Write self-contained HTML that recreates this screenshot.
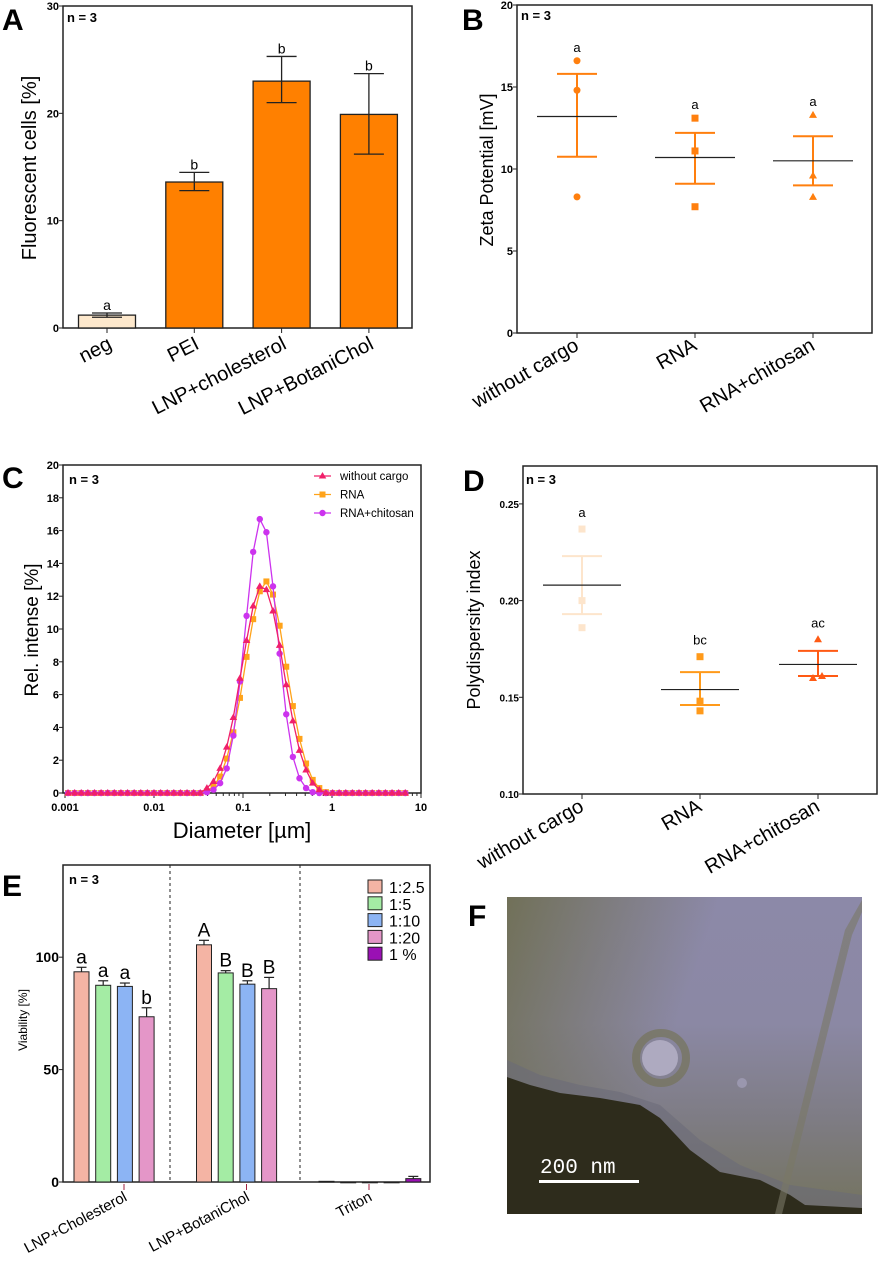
<!DOCTYPE html>
<html><head><meta charset="utf-8"><style>
html,body{margin:0;padding:0;background:#fff}
svg{display:block;font-family:"Liberation Sans",Arial,sans-serif}
</style></head><body>
<svg id="fig" width="879" height="1268" viewBox="0 0 879 1268" xmlns="http://www.w3.org/2000/svg">
<defs>
<linearGradient id="temBg" x1="0" y1="0" x2="0" y2="1">
<stop offset="0" stop-color="#8c89a8"/><stop offset="0.4" stop-color="#8b88a4"/><stop offset="0.7" stop-color="#7e7c84"/><stop offset="1" stop-color="#74735e"/>
</linearGradient>
<linearGradient id="temSide" x1="0" y1="0" x2="1" y2="0.3">
<stop offset="0" stop-color="#6c6c4a" stop-opacity="0.85"/><stop offset="0.55" stop-color="#6c6c4a" stop-opacity="0"/>
</linearGradient>
</defs>
<g id="root"></g>
</svg>
<script>
// ---------- Panel A data ----------
const aCats = ["neg","PEI","LNP+cholesterol","LNP+BotaniChol"];
const aVals = [1.2, 13.6, 23.0, 19.9];
const aErrLo = [1.0, 12.8, 21.0, 16.2];
const aErrHi = [1.4, 14.5, 25.3, 23.7];
const aLetters = ["a","b","b","b"];
const aTicks = [0,10,20,30];
// ---------- Panel B data ----------
const bCats = ["without cargo","RNA","RNA+chitosan"];
const bMeans = [13.2, 10.7, 10.5];
const bErrHi = [15.8, 12.2, 12.0];
const bErrLo = [10.75, 9.1, 9.0];
const bPts = [[16.6,14.8,8.3],[13.1,11.1,7.7],[13.3,9.6,8.3]];
const bLetters = ["a","a","a"];
const bTicks = [0,5,10,15,20];
// ---------- Panel C data ----------
const cStartIdx = 21;
const cWithout = [0.3,0.7,1.5,2.8,4.6,7.0,9.3,11.4,12.6,12.4,11.1,9.0,6.6,4.4,2.6,1.4,0.6,0.2];
const cRNA = [0.1,0.4,1.0,2.1,3.7,5.8,8.3,10.6,12.3,12.9,12.1,10.2,7.7,5.3,3.3,1.8,0.8,0.3,0.05];
const cChito = [0.05,0.2,0.6,1.5,3.5,6.8,10.8,14.7,16.7,15.9,12.6,8.5,4.8,2.2,0.9,0.3,0.05,0];
const cYTicks = [0,2,4,6,8,10,12,14,16,18,20];
const cXTicks = ["0.001","0.01","0.1","1","10"];
const cSeriesNames = ["without cargo","RNA","RNA+chitosan"];
// ---------- Panel D data ----------
const dMeans = [0.208, 0.154, 0.167];
const dErrHi = [0.223, 0.163, 0.174];
const dErrLo = [0.193, 0.146, 0.161];
const dPts = [[0.237,0.200,0.186],[0.171,0.148,0.143],[0.180,0.161,0.160]];
const dLetters = ["a","bc","ac"];
const dTicks = [0.10,0.15,0.20,0.25];
// ---------- Panel E data ----------
const eGroups = ["LNP+Cholesterol","LNP+BotaniChol","Triton"];
const eSeries = ["1:2.5","1:5","1:10","1:20","1 %"];
const eVals = [[93.5,87.5,87,73.5,null],[105.5,93,88,86,null],[0.3,0,0,0,1.5]];
const eErr = [[2,2,1.5,4,null],[2,1,1.5,5,null],[0,0,0,0,1]];
const eLetters = [["a","a","a","b",""],["A","B","B","B",""],["","","","",""]];
const eTicks = [0,50,100];

const NS="http://www.w3.org/2000/svg";
const root=document.getElementById('root');
function mk(tag,attrs,parent,text){const e=document.createElementNS(NS,tag);for(const k in attrs)e.setAttribute(k,attrs[k]);if(text!==undefined)e.textContent=text;(parent||root).appendChild(e);return e;}
function grp(name){const g=mk('g',{});return g;}

function panelLabel(t,x,y){const e=mk('text',{x:x,y:y,'font-size':30,'font-weight':'bold'},root,t);}
function nLabel(x,y,g,fs){const e=mk('text',{x:x,y:y,'font-size':fs||13,'font-weight':'bold'},g,'n = 3');}

// ============ Panel A ============
(function(){
const g=grp('panel-a-bar-chart');
const L=63,T=6,R=412,B=328,ymax=30;
const ys=v=>B-(B-T)*v/ymax;
const xs=i=>107+i*87.3;
mk('rect',{x:L,y:T,width:R-L,height:B-T,fill:'none',stroke:'#222','stroke-width':1.5},g);
aTicks.forEach(t=>{mk('line',{x1:L-4,x2:L,y1:ys(t),y2:ys(t),stroke:'#222'},g);const e=mk('text',{x:L-4,y:ys(t)+4,'font-size':11,'font-weight':'bold','text-anchor':'end'},g,t);});
aVals.forEach((v,i)=>{
 const b=mk('rect',{x:xs(i)-28.5,y:ys(v),width:57,height:B-ys(v),fill:i===0?'#fde8cc':'#ff8000',stroke:'#222','stroke-width':1.3},g);
 
 mk('line',{x1:xs(i),x2:xs(i),y1:ys(aErrLo[i]),y2:ys(aErrHi[i]),stroke:'#222','stroke-width':1.3},g);
 mk('line',{x1:xs(i)-15,x2:xs(i)+15,y1:ys(aErrLo[i]),y2:ys(aErrLo[i]),stroke:'#222','stroke-width':1.3},g);
 mk('line',{x1:xs(i)-15,x2:xs(i)+15,y1:ys(aErrHi[i]),y2:ys(aErrHi[i]),stroke:'#222','stroke-width':1.3},g);
 const lt=mk('text',{x:xs(i),y:ys(aErrHi[i])-3,'font-size':14,'text-anchor':'middle'},g,aLetters[i]);
 mk('line',{x1:xs(i),x2:xs(i),y1:B,y2:B+5,stroke:'#222'},g);
 const xl=mk('text',{x:0,y:0,'font-size':20,'text-anchor':'end',transform:`translate(${xs(i)+6},${B+20}) rotate(-27)`},g,aCats[i]);
});
const yt=mk('text',{x:0,y:0,'font-size':20,'text-anchor':'middle',transform:`translate(36,168) rotate(-90)`},g,'Fluorescent cells [%]');
nLabel(67,22,g,13);
})();
panelLabel('A',2,30);

// ============ Panel B ============
(function(){
const g=grp('panel-b-zeta-potential');
const L=517,T=5,R=872,B=333,ymax=20;
const ys=v=>B-(B-T)*v/ymax;
const xs=i=>577+i*118;
mk('rect',{x:L,y:T,width:R-L,height:B-T,fill:'none',stroke:'#222','stroke-width':1.5},g);
bTicks.forEach(t=>{mk('line',{x1:L-4,x2:L,y1:ys(t),y2:ys(t),stroke:'#222'},g);const e=mk('text',{x:L-4,y:ys(t)+4,'font-size':11,'font-weight':'bold','text-anchor':'end'},g,t);});
const col='#ff7f0e';
bMeans.forEach((m,i)=>{
 const x=xs(i);
 mk('line',{x1:x,x2:x,y1:ys(bErrLo[i]),y2:ys(bErrHi[i]),stroke:col,'stroke-width':2},g);
 mk('line',{x1:x-20,x2:x+20,y1:ys(bErrLo[i]),y2:ys(bErrLo[i]),stroke:col,'stroke-width':2},g);
 mk('line',{x1:x-20,x2:x+20,y1:ys(bErrHi[i]),y2:ys(bErrHi[i]),stroke:col,'stroke-width':2},g);
 const ml=mk('line',{x1:x-40,x2:x+40,y1:ys(m),y2:ys(m),stroke:'#222','stroke-width':1.2},g);
 bPts[i].forEach(p=>{let e;const y=ys(p);
  if(i===0)e=mk('circle',{cx:x,cy:y,r:3.5,fill:col},g);
  else if(i===1)e=mk('rect',{x:x-3.5,y:y-3.5,width:7,height:7,fill:col},g);
  else e=mk('polygon',{points:`${x},${y-4} ${x+4},${y+3} ${x-4},${y+3}`,fill:col},g);
  });
 const top=Math.max(...bPts[i]);
 const lt=mk('text',{x:x,y:ys(top)-9,'font-size':13,'text-anchor':'middle'},g,bLetters[i]);
 mk('line',{x1:x,x2:x,y1:B,y2:B+5,stroke:'#222'},g);
 const xl=mk('text',{x:0,y:0,'font-size':20,'text-anchor':'end',transform:`translate(${x+3},${B+16}) rotate(-30)`},g,bCats[i]);
});
const yt=mk('text',{x:0,y:0,'font-size':18,'text-anchor':'middle',transform:`translate(493,170) rotate(-90)`},g,'Zeta Potential [mV]');
nLabel(521,20,g,13);
})();
panelLabel('B',462,30);

// ============ Panel C ============
(function(){
const g=grp('panel-c-size-distribution');
const L=63,T=465,R=421,B=793,ymax=20;
const ys=v=>B-(B-T)*v/ymax;
const xl=lg=>65+(lg+3)*89;
const idxLog=i=>-2.966+0.0743*i;
mk('rect',{x:L,y:T,width:R-L,height:B-T,fill:'none',stroke:'#222','stroke-width':1.5},g);
cYTicks.forEach(t=>{mk('line',{x1:L-4,x2:L,y1:ys(t),y2:ys(t),stroke:'#222'},g);const e=mk('text',{x:L-4,y:ys(t)+4,'font-size':11,'font-weight':'bold','text-anchor':'end'},g,t);});
cXTicks.forEach((t,k)=>{const x=xl(k-3);mk('line',{x1:x,x2:x,y1:B,y2:B+5,stroke:'#222'},g);
 for(let m=2;m<10&&k<4;m++){const xm=xl(k-3+Math.log10(m));mk('line',{x1:xm,x2:xm,y1:B,y2:B+3,stroke:'#222'},g);}
 const e=mk('text',{x:x,y:B+18,'font-size':11,'font-weight':'bold','text-anchor':'middle'},g,t);});
const N=52;
function full(arr){const out=[];for(let i=0;i<N;i++){const j=i-cStartIdx;out.push(j>=0&&j<arr.length?arr[j]:0);}return out;}
const series=[[cRNA,'#ffa31a','sq'],[cChito,'#cc33ee','ci'],[cWithout,'#f0206a','tr']];
series.forEach(([arr,col,sh])=>{
 const v=full(arr);
 const pts=v.map((y,i)=>`${xl(idxLog(i)).toFixed(1)},${ys(y).toFixed(1)}`).join(' ');
 const pl=mk('polyline',{points:pts,fill:'none',stroke:col,'stroke-width':1.3},g);
 v.forEach((y,i)=>{const x=xl(idxLog(i)),yy=ys(y);let e;
  if(sh==='sq')e=mk('rect',{x:x-3,y:yy-3,width:6,height:6,fill:col},g);
  else if(sh==='ci')e=mk('circle',{cx:x,cy:yy,r:3.2,fill:col},g);
  else e=mk('polygon',{points:`${x},${yy-4} ${x+3.8},${yy+2.5} ${x-3.8},${yy+2.5}`,fill:col},g);
  });
});
const lcols=['#f0206a','#ffa31a','#cc33ee'],lsh=['tr','sq','ci'];
cSeriesNames.forEach((n,k)=>{const y=476+k*18.5;
 const le=mk('g',{},g);
 mk('line',{x1:314,x2:331,y1:y,y2:y,stroke:lcols[k],'stroke-width':1.3},le);
 if(lsh[k]==='tr')mk('polygon',{points:`322.5,${y-4} 326.3,${y+2.5} 318.7,${y+2.5}`,fill:lcols[k]},le);
 else if(lsh[k]==='sq')mk('rect',{x:319.5,y:y-3,width:6,height:6,fill:lcols[k]},le);
 else mk('circle',{cx:322.5,cy:y,r:3.2,fill:lcols[k]},le);
 mk('text',{x:340,y:y+4,'font-size':11.5},le,n);});
const yt=mk('text',{x:0,y:0,'font-size':19,'text-anchor':'middle',transform:`translate(38,630) rotate(-90)`},g,'Rel. intense  [%]');
const xt=mk('text',{x:242,y:838,'font-size':22,'text-anchor':'middle'},g,'Diameter  [µm]');
nLabel(69,484,g,13);
})();
panelLabel('C',2,488);

// ============ Panel D ============
(function(){
const g=grp('panel-d-polydispersity');
const L=523,T=466,R=877,B=794,ymin=0.10,ymax=0.2696;
const ys=v=>B-(B-T)*(v-ymin)/(ymax-ymin);
const xs=i=>582+i*118;
mk('rect',{x:L,y:T,width:R-L,height:B-T,fill:'none',stroke:'#222','stroke-width':1.5},g);
dTicks.forEach(t=>{mk('line',{x1:L-4,x2:L,y1:ys(t),y2:ys(t),stroke:'#222'},g);const e=mk('text',{x:L-4,y:ys(t)+4,'font-size':10,'font-weight':'bold','text-anchor':'end'},g,t.toFixed(2));});
const cols=['#fde5cc','#ff9a1a','#ff5a14'];
dMeans.forEach((m,i)=>{const x=xs(i),col=cols[i];
 mk('line',{x1:x,x2:x,y1:ys(dErrLo[i]),y2:ys(dErrHi[i]),stroke:col,'stroke-width':2},g);
 mk('line',{x1:x-20,x2:x+20,y1:ys(dErrLo[i]),y2:ys(dErrLo[i]),stroke:col,'stroke-width':2},g);
 mk('line',{x1:x-20,x2:x+20,y1:ys(dErrHi[i]),y2:ys(dErrHi[i]),stroke:col,'stroke-width':2},g);
 const ml=mk('line',{x1:x-39,x2:x+39,y1:ys(m),y2:ys(m),stroke:'#222','stroke-width':1.2},g);
 dPts[i].forEach((p,k)=>{let e;const y=ys(p);
  if(i===2){const xx=x+(k===1?4:(k===2?-5:0));e=mk('polygon',{points:`${xx},${y-4} ${xx+4},${y+3} ${xx-4},${y+3}`,fill:col},g);}
  else e=mk('rect',{x:x-3.5,y:y-3.5,width:7,height:7,fill:col},g);
  });
 const top=Math.max(...dPts[i]);
 const lt=mk('text',{x:x,y:ys(top)-12,'font-size':13,'text-anchor':'middle'},g,dLetters[i]);
 mk('line',{x1:x,x2:x,y1:B,y2:B+5,stroke:'#222'},g);
 const xl=mk('text',{x:0,y:0,'font-size':20,'text-anchor':'end',transform:`translate(${x+3},${B+16}) rotate(-30)`},g,bCats[i]);
});
const yt=mk('text',{x:0,y:0,'font-size':18,'text-anchor':'middle',transform:`translate(480,630) rotate(-90)`},g,'Polydispersity index');
nLabel(526,484,g,13);
})();
panelLabel('D',463,491);

// ============ Panel E ============
(function(){
const g=grp('panel-e-viability');
const L=63,T=865,R=430,B=1182,ymax=141;
const ys=v=>B-(B-T)*v/ymax;
const gc=k=>124+k*122.5;
const bx=(k,s)=>gc(k)-50+s*21.7;
mk('rect',{x:L,y:T,width:R-L,height:B-T,fill:'none',stroke:'#222','stroke-width':1.5},g);
[170,300].forEach(x=>{const d=mk('line',{x1:x,x2:x,y1:T,y2:B,stroke:'#222','stroke-dasharray':'3,3'},g);});
eTicks.forEach(t=>{mk('line',{x1:L-4,x2:L,y1:ys(t),y2:ys(t),stroke:'#222'},g);const e=mk('text',{x:L-4,y:ys(t)+5,'font-size':14,'font-weight':'bold','text-anchor':'end'},g,t);});
const cols=['#f4b4a4','#a4eca4','#8cb4f4','#e496c8','#9a10b4'];
eVals.forEach((grpv,k)=>{
 grpv.forEach((v,s)=>{if(v===null)return;const x=bx(k,s);
  const b=mk('rect',{x:x,y:ys(v),width:15,height:Math.max(B-ys(v),0.8),fill:cols[s],stroke:'#222','stroke-width':1},g);
  
  const er=eErr[k][s];
  if(er>0){mk('line',{x1:x+7.5,x2:x+7.5,y1:ys(v),y2:ys(v+er),stroke:'#222','stroke-width':1.2},g);mk('line',{x1:x+2.5,x2:x+12.5,y1:ys(v+er),y2:ys(v+er),stroke:'#222','stroke-width':1.2},g);}
  const L2=eLetters[k][s];
  if(L2){const lt=mk('text',{x:x+7.5,y:ys(v+er)-4,'font-size':19,'text-anchor':'middle'},g,L2);}
 });
 mk('line',{x1:gc(k),x2:gc(k),y1:B+2,y2:B+8,stroke:'#a02040'},g);
 const xl=mk('text',{x:0,y:0,'font-size':15,'text-anchor':'end',transform:`translate(${gc(k)+4},${B+18}) rotate(-28)`},g,eGroups[k]);
});
eSeries.forEach((n,s)=>{const y=887+s*16.8;
 const le=mk('g',{},g);
 mk('rect',{x:368,y:y-7,width:14,height:13,fill:cols[s],stroke:'#222','stroke-width':1},le);
 mk('text',{x:389,y:y+6,'font-size':16},le,n);});
const yt=mk('text',{x:0,y:0,'font-size':12,'text-anchor':'middle',transform:`translate(27,1020) rotate(-90)`},g,'Viability [%]');
nLabel(69,884,g,13);
})();
panelLabel('E',2,896);

// ============ Panel F ============
(function(){
const g=grp('panel-f-tem-image');
mk('rect',{x:507,y:897,width:355,height:317,fill:'url(#temBg)'},g);
mk('rect',{x:507,y:897,width:355,height:317,fill:'url(#temSide)'},g);
mk('polygon',{points:'507,1060 540,1075 580,1085 620,1092 660,1105 700,1140 740,1165 790,1185 862,1195 862,1214 507,1214',fill:'#6a6a78',opacity:0.55},g);
mk('polygon',{points:'507,1077 530,1085 560,1093 600,1098 640,1105 660,1118 690,1150 720,1172 760,1180 790,1195 805,1205 862,1208 862,1214 507,1214',fill:'#2e2c1c'},g);
mk('polygon',{points:'775,1214 845,930 862,900 862,912 852,935 782,1214',fill:'#7a7866',opacity:0.6},g);
mk('circle',{cx:661,cy:1058,r:25,fill:'none',stroke:'#75735a','stroke-width':8,opacity:0.7},g);
mk('circle',{cx:660,cy:1058,r:18,fill:'#aeaac0'},g);
mk('circle',{cx:742,cy:1083,r:5,fill:'#9a97ae'},g);
const sb=mk('text',{x:540,y:1173,'font-size':21,fill:'#fff','font-family':'Liberation Mono, monospace'},g,'200 nm');
const sl=mk('rect',{x:539,y:1180,width:100,height:3,fill:'#fff'},g);
})();
panelLabel('F',468,926);
</script>
</body></html>
